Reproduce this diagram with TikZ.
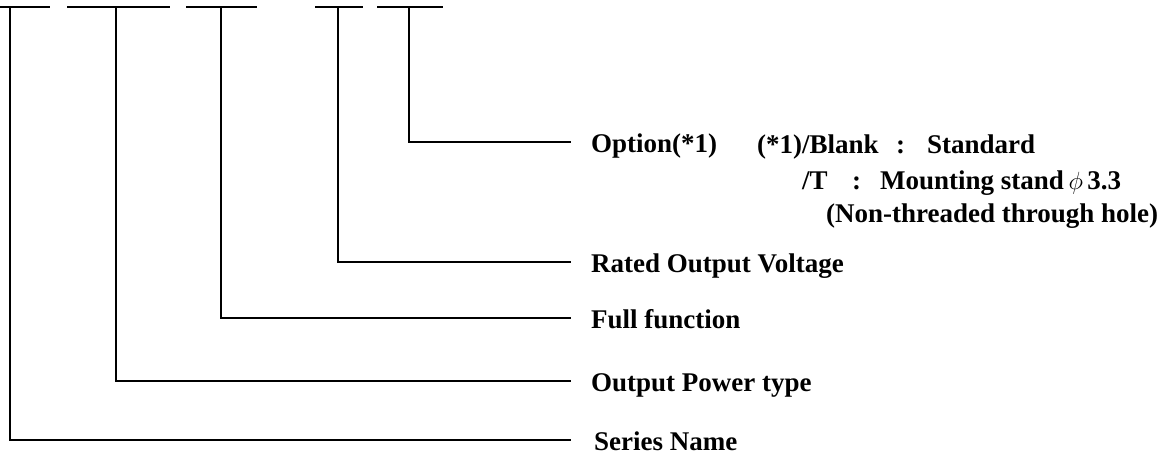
\documentclass[tikz,border=0pt]{standalone}
\usepackage{fontspec}
\setmainfont{Liberation Serif}
\begin{document}
\begin{tikzpicture}[x=1pt,y=-1pt,
  wire/.style={line width=1.8pt},
  lbl/.style={font=\fontsize{27}{30}\selectfont\bfseries, inner sep=0pt, text height=20pt, text depth=0pt, anchor=west},
  tlbl/.style={font=\fontsize{27}{30}\selectfont\bfseries, inner sep=0pt, anchor=base west}]
\useasboundingbox (0,0) rectangle (1172,455);
% top bars
\coordinate (b1l) at (0,7);   \coordinate (b1r) at (50,7);
\coordinate (b2l) at (67,7);  \coordinate (b2r) at (170,7);
\coordinate (b3l) at (186,7); \coordinate (b3r) at (257,7);
\coordinate (b4l) at (315,7); \coordinate (b4r) at (363,7);
\coordinate (b5l) at (377,7); \coordinate (b5r) at (443,7);
\foreach \i in {1,...,5} \draw[wire] (b\i l) -- (b\i r);
\coordinate (t1) at (10,7);
\coordinate (t2) at (116,7);
\coordinate (t3) at (221,7);
\coordinate (t4) at (338,7);
\coordinate (t5) at (409,7);
% end points of connectors
\coordinate (e5) at (571,142);
\coordinate (e4) at (571,262);
\coordinate (e3) at (571,318);
\coordinate (e2) at (571,381);
\coordinate (e1) at (571,440);
% labels
\node[lbl] (opt) at (591,142) {Option(*1)};
\node[lbl] (rov) at (591,262) {Rated Output Voltage};
\node[lbl] (ff)  at (591,318) {Full function};
\node[lbl] (opw) at (591,381) {Output Power type};
\node[lbl] (sn)  at (594,440) {Series Name};
\node[tlbl] (o1a) at (757,153) {(*1)/Blank};
\node[tlbl] (o1b) at (896,153) {:};
\node[tlbl] (o1c) at (927,153) {Standard};
\node[tlbl] (o2a) at (802,189) {/T};
\node[tlbl] (o2b) at (852,189) {:};
\node[tlbl] (o2c) at (880,189) {Mounting stand\,{\mdseries$\phi$}\,3.3};
\node[tlbl] (o3)  at (826,222) {(Non-threaded through hole)};
% connectors
\draw[wire] (t5) |- (e5);
\draw[wire] (t4) |- (e4);
\draw[wire] (t3) |- (e3);
\draw[wire] (t2) |- (e2);
\draw[wire] (t1) |- (e1);
\end{tikzpicture}
\end{document}
